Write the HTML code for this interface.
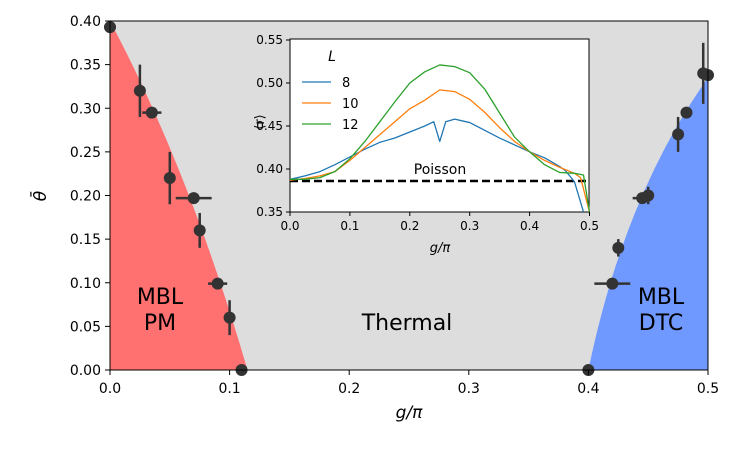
<!DOCTYPE html>
<html><head><meta charset="utf-8"><style>
body{margin:0;background:#fff;}
svg{display:block;font-family:"DejaVu Sans","Liberation Sans",sans-serif;}
</style></head><body>
<svg id="chart" width="751" height="449"></svg>
<script>
const ptsG=[0.0,0.025,0.035,0.05,0.07,0.075,0.09,0.1,0.11,0.4,0.42,0.425,0.445,0.45,0.475,0.482,0.496,0.5];
const ptsT=[0.393,0.32,0.295,0.22,0.197,0.16,0.099,0.06,0.0,0.0,0.099,0.14,0.197,0.2,0.27,0.295,0.34,0.338];
const ptsXerr=[0.005,0,0.008,0,0.015,0,0.008,0,0,0,0.015,0,0.008,0,0,0,0,0];
const ptsYerr=[0,0.03,0,0.03,0,0.02,0,0.02,0,0,0,0.01,0,0.01,0.02,0,0.035,0];
const xTicks=[0.0,0.1,0.2,0.3,0.4,0.5];
const yTicks=[0.0,0.05,0.1,0.15,0.2,0.25,0.3,0.35,0.4];
const insetG8=[0,0.025,0.05,0.075,0.1,0.125,0.15,0.175,0.2,0.225,0.24,0.25,0.26,0.275,0.3,0.325,0.35,0.375,0.4,0.425,0.45,0.46,0.475,0.49];
const insetR8=[0.388,0.392,0.397,0.405,0.414,0.423,0.431,0.436,0.443,0.45,0.455,0.432,0.455,0.458,0.454,0.445,0.436,0.428,0.42,0.413,0.403,0.398,0.385,0.35];
const insetG10=[0,0.025,0.05,0.075,0.1,0.125,0.15,0.175,0.2,0.225,0.25,0.275,0.3,0.325,0.35,0.375,0.4,0.425,0.45,0.475,0.485,0.5];
const insetR10=[0.387,0.389,0.392,0.397,0.41,0.425,0.44,0.455,0.47,0.48,0.492,0.49,0.481,0.466,0.448,0.432,0.42,0.41,0.402,0.395,0.39,0.35];
const insetG12=[0,0.025,0.05,0.075,0.1,0.125,0.15,0.175,0.2,0.225,0.25,0.275,0.3,0.325,0.35,0.375,0.4,0.425,0.45,0.475,0.49,0.5];
const insetR12=[0.388,0.388,0.39,0.397,0.412,0.432,0.455,0.478,0.5,0.513,0.521,0.519,0.512,0.493,0.465,0.437,0.42,0.405,0.396,0.395,0.393,0.35];
const insetXTicks=[0.0,0.1,0.2,0.3,0.4,0.5];
const insetYTicks=[0.35,0.4,0.45,0.5,0.55];
const poisson=0.386;

const NS="http://www.w3.org/2000/svg";
const svg=document.getElementById('chart');
function el(t,a,p){const e=document.createElementNS(NS,t);for(const k in a)e.setAttribute(k,a[k]);(p||svg).appendChild(e);return e;}
const X=g=>110+g*1196, Y=t=>370-t*872.5;
const IX=g=>290+g*599, IY=r=>212-(r-0.35)*860;

let e;
e=el('rect',{x:110,y:21,width:598,height:349,fill:'#dddddd'});

e=el('path',{d:`M${X(0)},${Y(0.4)} Q${X(0.066)},${Y(0.23)} ${X(0.115)},${Y(0)} L${X(0)},${Y(0)} Z`,fill:'#ff7070'});

e=el('path',{d:`M${X(0.4)},${Y(0)} Q${X(0.43)},${Y(0.2)} ${X(0.5)},${Y(0.335)} L${X(0.5)},${Y(0)} Z`,fill:'#7099ff'});


for(let i=0;i<ptsG.length;i++){
  const g=el('g',{});
  
  const cx=X(ptsG[i]),cy=Y(ptsT[i]);
  if(ptsXerr[i])el('line',{x1:X(ptsG[i]-ptsXerr[i]),x2:X(ptsG[i]+ptsXerr[i]),y1:cy,y2:cy,stroke:'#333',"stroke-width":2.5},g);
  if(ptsYerr[i])el('line',{x1:cx,x2:cx,y1:Y(ptsT[i]-ptsYerr[i]),y2:Y(ptsT[i]+ptsYerr[i]),stroke:'#333',"stroke-width":2.5},g);
  el('circle',{cx,cy,r:6,fill:'#333'},g);
}
e=el('rect',{x:110,y:21,width:598,height:349,fill:'none',stroke:'#000',"stroke-width":1});

xTicks.forEach(t=>{el('line',{x1:X(t),x2:X(t),y1:370,y2:375,stroke:'#000'});
  e=el('text',{x:X(t),y:393,"text-anchor":'middle',"font-size":14});e.textContent=t.toFixed(1);
  });
yTicks.forEach(t=>{el('line',{x1:105,x2:110,y1:Y(t),y2:Y(t),stroke:'#000'});
  e=el('text',{x:101,y:Y(t)+5,"text-anchor":'end',"font-size":14});e.textContent=t.toFixed(2);
  });
e=el('text',{x:409,y:418,"text-anchor":'middle',"font-size":17,"font-style":'italic'});e.textContent='g/π';

e=el('text',{x:46,y:196,"text-anchor":'middle',"font-size":17,"font-style":'italic',transform:'rotate(-90 46 196)'});e.textContent='θ̄';

[['MBL',160,304,'mbl-pm-label'],['PM',160,330,'mbl-pm-label'],['Thermal',407,330,'thermal-label'],['MBL',661,304,'mbl-dtc-label'],['DTC',661,330,'mbl-dtc-label']].forEach(a=>{
  e=el('text',{x:a[1],y:a[2],"text-anchor":'middle',"font-size":22});e.textContent=a[0];
  });

// inset
e=el('rect',{x:290,y:39,width:299,height:173,fill:'#fff',stroke:'#000'});

const clip=el('clipPath',{id:'ic'});el('rect',{x:290,y:39,width:300,height:173},clip);
e=el('line',{x1:290,x2:589,y1:IY(poisson),y2:IY(poisson),stroke:'#000',"stroke-width":2.5,"stroke-dasharray":'8,4'});

e=el('text',{x:440,y:174,"text-anchor":'middle',"font-size":14});e.textContent='Poisson';

[[insetG8,insetR8,'#1f77b4','series-l8'],[insetG10,insetR10,'#ff7f0e','series-l10'],[insetG12,insetR12,'#2ca02c','series-l12']].forEach(s=>{
  e=el('polyline',{points:s[0].map((g,i)=>IX(g)+','+IY(s[1][i])).join(' '),fill:'none',stroke:s[2],"stroke-width":1.3,"stroke-linejoin":'round',"clip-path":'url(#ic)'});
  });
insetXTicks.forEach(t=>{el('line',{x1:IX(t),x2:IX(t),y1:212,y2:216,stroke:'#000'});
  e=el('text',{x:IX(t),y:230,"text-anchor":'middle',"font-size":12});e.textContent=t.toFixed(1);
  });
insetYTicks.forEach(t=>{el('line',{x1:286,x2:290,y1:IY(t),y2:IY(t),stroke:'#000'});
  e=el('text',{x:283,y:IY(t)+4,"text-anchor":'end',"font-size":12});e.textContent=t.toFixed(2);
  });
e=el('text',{x:440,y:252,"text-anchor":'middle',"font-size":13,"font-style":'italic'});e.textContent='g/π';

e=el('text',{x:0,y:0,"text-anchor":'middle',"font-size":13,transform:'translate(264,122) rotate(-90)'});e.textContent='⟨r⟩';

e=el('text',{x:332,y:61,"text-anchor":'middle',"font-size":14,"font-style":'italic'});e.textContent='L';

[['8','#1f77b4',82],['10','#ff7f0e',103],['12','#2ca02c',124]].forEach(l=>{
  const g=el('g',{});
  el('line',{x1:302,x2:331,y1:l[2],y2:l[2],stroke:l[1],"stroke-width":1.3},g);
  const t=el('text',{x:342,y:l[2]+5,"font-size":13},g);t.textContent=l[0];});
</script>
</body></html>
